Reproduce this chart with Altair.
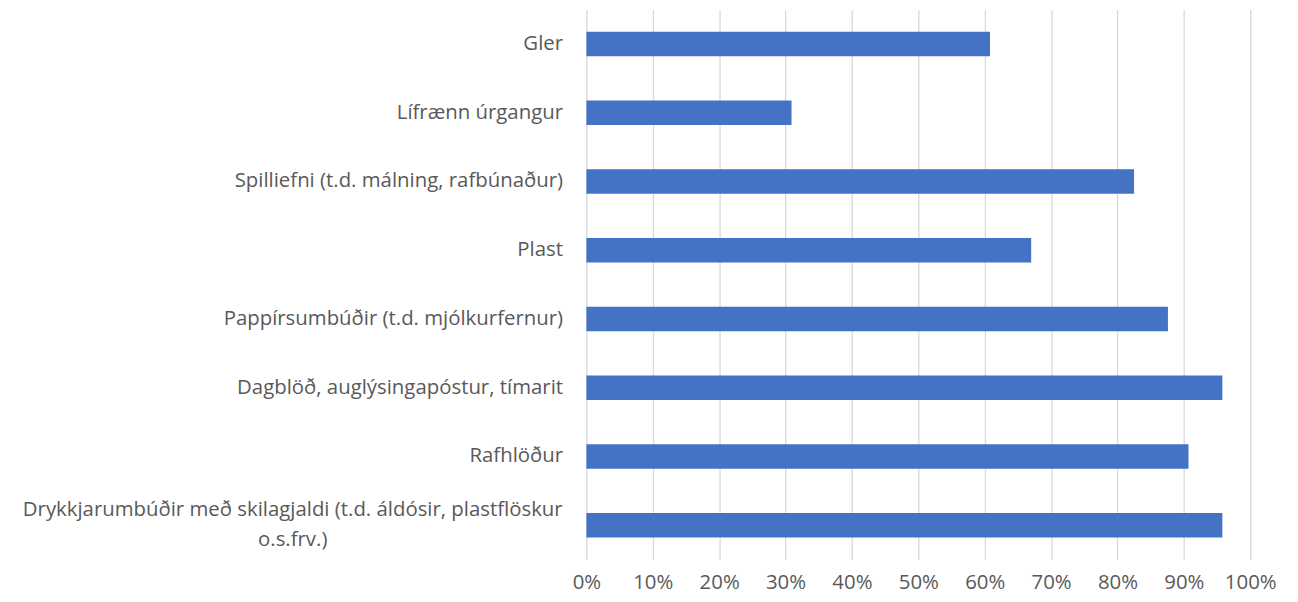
import altair as alt
import pandas as pd

categories = [
    "Gler",
    "Lífrænn úrgangur",
    "Spilliefni (t.d. málning, rafbúnaður)",
    "Plast",
    "Pappírsumbúðir (t.d. mjólkurfernur)",
    "Dagblöð, auglýsingapóstur, tímarit",
    "Rafhlöður",
    "Drykkjarumbúðir með skilagjaldi (t.d. áldósir, plastflöskur\no.s.frv.)",
]
values = [0.608, 0.309, 0.825, 0.670, 0.876, 0.958, 0.907, 0.958]
x_ticks = [0, 0.1, 0.2, 0.3, 0.4, 0.5, 0.6, 0.7, 0.8, 0.9, 1.0]

df = pd.DataFrame({"cat": categories, "val": values})

FONT = "Open Sans"
TXT = "#595959"
FS = 20.5
LONG = "length(datum.value) > 50"

chart = (
    alt.Chart(df)
    .mark_bar(color="#4472C4")
    .encode(
        y=alt.Y(
            "cat:N",
            sort=categories,
            title=None,
            scale=alt.Scale(paddingInner=0.645, paddingOuter=0.32),
            axis=alt.Axis(
                domain=False,
                ticks=False,
                grid=False,
                labelFont=FONT,
                labelFontSize=FS,
                labelColor=TXT,
                labelLimit=700,
                labelLineHeight=30,
                labelExpr="split(datum.label, '\\n')",
                labelAlign={"condition": {"test": LONG, "value": "center"}, "value": "right"},
                labelPadding={"condition": {"test": LONG, "value": 296}, "value": 24},
                labelOffset={"condition": {"test": LONG, "value": -15}, "value": 0},
            ),
        ),
        x=alt.X(
            "val:Q",
            title=None,
            scale=alt.Scale(domain=[0, 1], nice=False),
            axis=alt.Axis(
                values=x_ticks,
                format=".0%",
                domain=False,
                ticks=False,
                grid=True,
                gridColor="#d9d9d9",
                gridWidth=1.3,
                labelFont=FONT,
                labelFontSize=FS,
                labelColor=TXT,
                labelFlush=False,
                labelPadding=13,
            ),
        ),
    )
    .properties(
        width=668,
        height=553,
        autosize=alt.AutoSizeParams(type="none"),
        padding={"left": 582, "top": 0, "right": 40, "bottom": 40},
    )
    .configure_view(stroke=None)
)

chart.save("out.html", embed_options={"renderer": "svg", "actions": False})
